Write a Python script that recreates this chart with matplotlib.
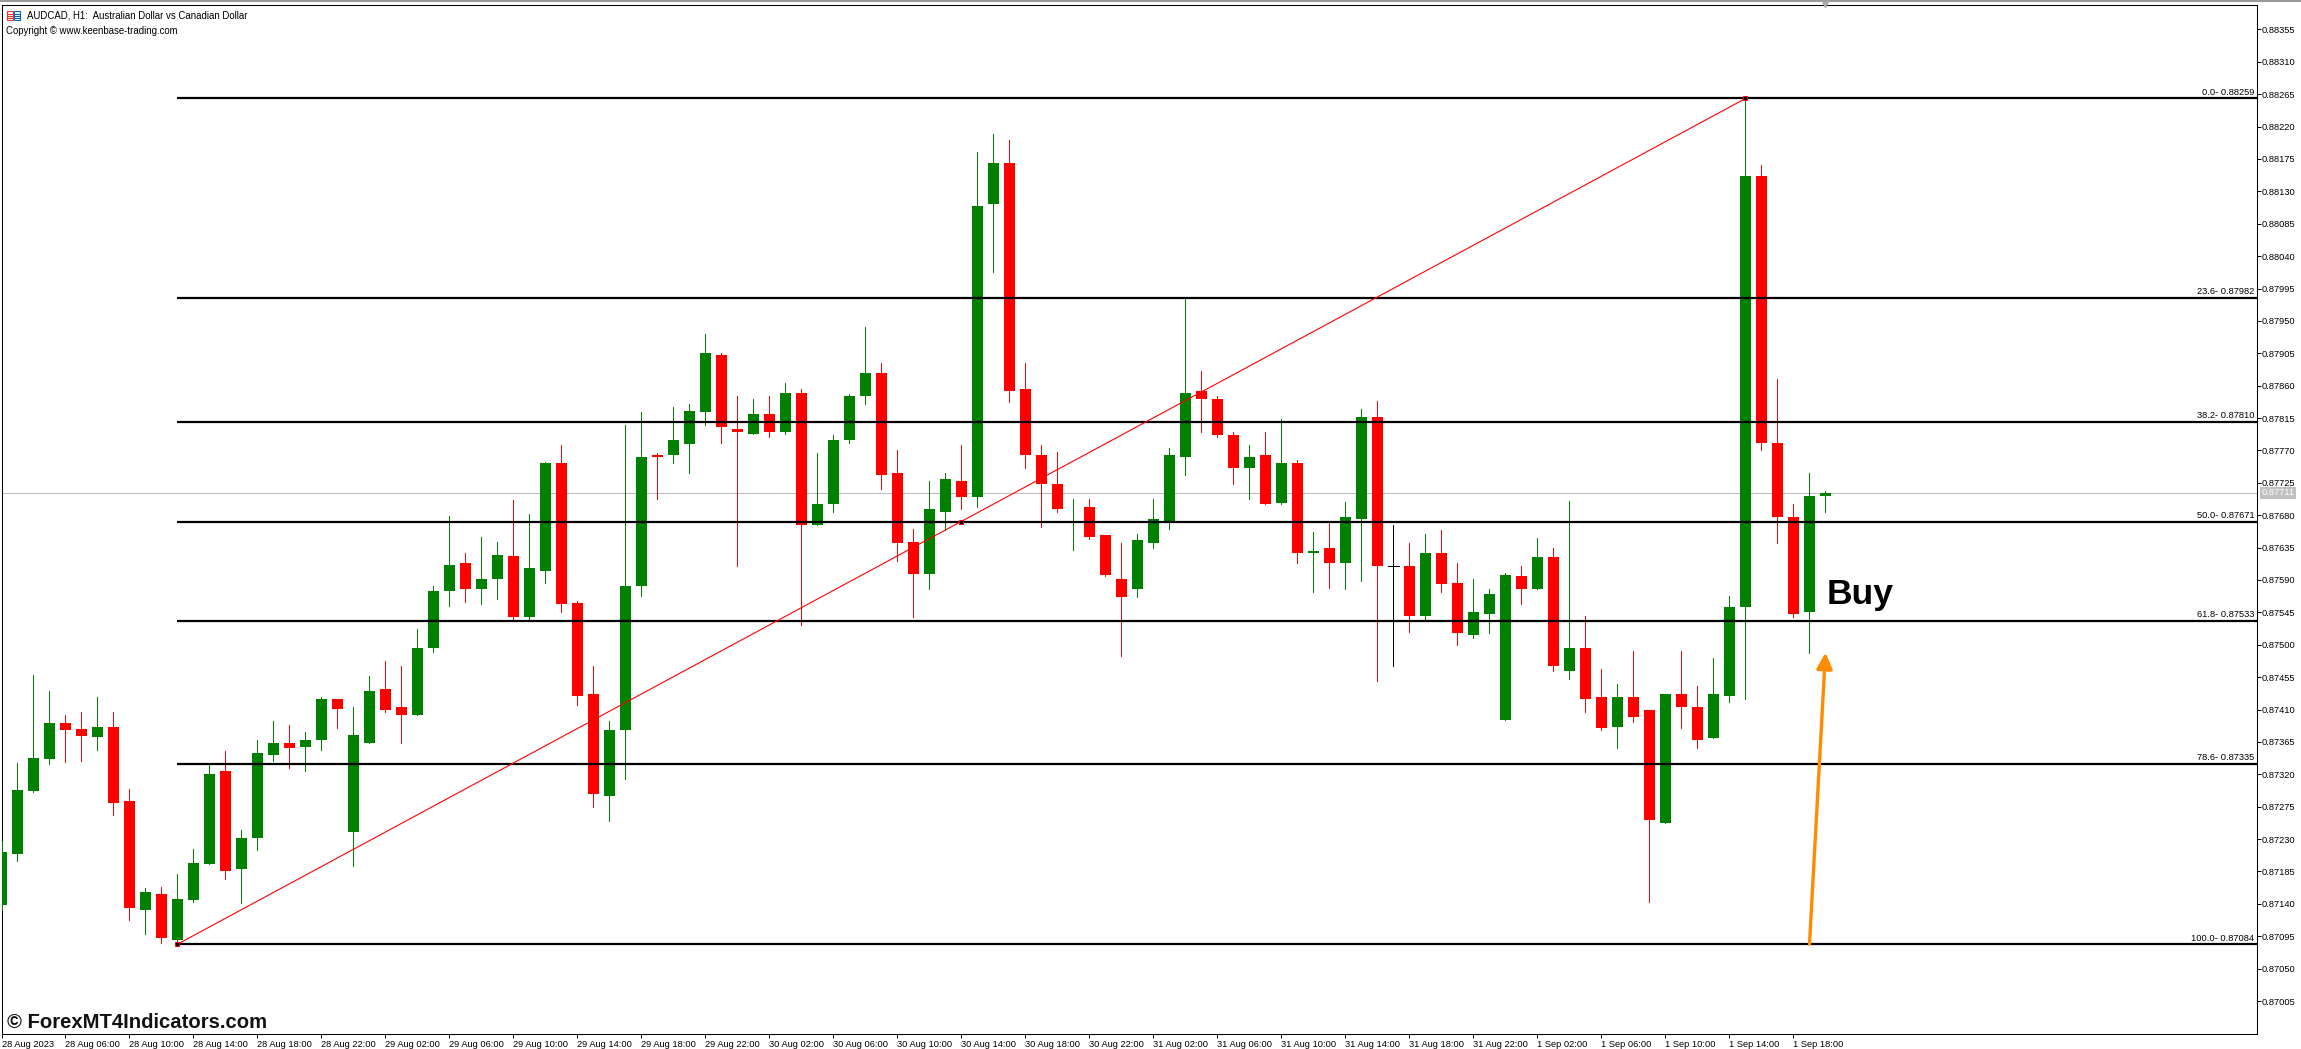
import numpy as np
import matplotlib
matplotlib.use('Agg')
import matplotlib.pyplot as plt
from matplotlib.patches import Rectangle

plt.rcParams['font.family'] = ['Liberation Sans', 'DejaVu Sans']

# candle values in points (1 point = 0.00001)
opens = [87139,87209,87297,87341,87391,87383,87372,87386,87283,87131,
         87154,87090,87145,87195,87325,87188,87232,87347,87364,87358,
         87367,87424,87240,87363,87438,87413,87402,87495,87575,87613,
         87578,87591,87624,87538,87603,87753,87558,87432,87290,87381,
         87581,87764,87763,87779,87824,87903,87800,87793,87821,87795,
         87850,87667,87695,87784,87845,87877,87739,87643,87599,87684,
         87728,87706,88113,88170,87855,87764,87724,87691,87692,87653,
         87592,87577,87641,87672,87761,87852,87842,87792,87745,87764,
         87697,87752,87627,87635,87614,87675,87816,87610,87610,87540,
         87627,87586,87514,87543,87395,87596,87578,87622,87463,87496,
         87427,87386,87428,87409,87253,87432,87414,87370,87429,87552,
         88152,87781,87678,87545,87707]
closes = [87212,87298,87343,87391,87382,87373,87386,87280,87134,87157,
          87092,87147,87197,87320,87186,87232,87350,87364,87357,87368,
          87424,87411,87375,87436,87410,87402,87496,87575,87611,87578,
          87592,87625,87538,87606,87753,87556,87429,87293,87381,87581,
          87761,87761,87784,87825,87905,87802,87796,87821,87795,87850,
          87667,87696,87785,87846,87877,87736,87641,87599,87688,87731,
          87706,88110,88170,87853,87763,87723,87689,87692,87650,87597,
          87567,87645,87675,87764,87850,87842,87791,87745,87761,87696,
          87753,87627,87630,87614,87677,87817,87610,87610,87540,87627,
          87585,87516,87545,87571,87597,87577,87622,87470,87496,87425,
          87385,87428,87400,87257,87432,87413,87368,87432,87553,88152,
          87780,87677,87543,87707,87711]
highs = [87227,87336,87458,87436,87403,87407,87428,87407,87300,87162,
         87164,87182,87216,87334,87353,87243,87367,87394,87389,87379,
         87427,87424,87414,87457,87478,87471,87522,87582,87679,87628,
         87650,87643,87701,87682,87754,87778,87561,87471,87394,87805,
         87824,87767,87831,87834,87932,87906,87846,87842,87846,87864,
         87856,87767,87791,87849,87942,87891,87771,87661,87727,87739,
         87778,88185,88209,88202,87892,87778,87768,87703,87703,87653,
         87642,87654,87703,87774,87981,87880,87845,87795,87778,87796,
         87814,87757,87656,87670,87698,87827,87839,87667,87641,87654,
         87660,87614,87591,87578,87600,87609,87649,87635,87700,87540,
         87466,87446,87492,87409,87432,87492,87443,87482,87568,88259,
         88167,87869,87696,87739,87714]
lows = [87131,87199,87296,87334,87337,87339,87354,87264,87117,87098,
        87086,87084,87142,87195,87175,87141,87215,87339,87329,87324,
        87354,87385,87192,87363,87406,87363,87402,87490,87554,87560,
        87556,87563,87534,87534,87586,87545,87417,87275,87255,87314,
        87568,87703,87753,87739,87805,87781,87609,87793,87788,87793,
        87527,87666,87684,87781,87834,87716,87617,87539,87577,87659,
        87688,87692,88018,87838,87746,87663,87684,87631,87647,87595,
        87484,87567,87635,87661,87736,87795,87788,87723,87702,87696,
        87696,87614,87573,87579,87578,87588,87450,87471,87518,87535,
        87573,87499,87510,87517,87395,87556,87577,87464,87452,87406,
        87381,87356,87393,87142,87253,87385,87356,87370,87420,87424,
        87770,87641,87538,87489,87684]

fib_names = ['0.0', '23.6', '38.2', '50.0', '61.8', '78.6', '100.0']
fib_levels = [0.88259, 0.87982, 0.87810, 0.87671, 0.87533, 0.87335, 0.87084]
fib_start = 11
fib_mid = 60
fib_end = 109

price_ticks = [0.88355,0.88310,0.88265,0.88220,0.88175,0.88130,0.88085,0.88040,
               0.87995,0.87950,0.87905,0.87860,0.87815,0.87770,0.87725,0.87680,
               0.87635,0.87590,0.87545,0.87500,0.87455,0.87410,0.87365,0.87320,
               0.87275,0.87230,0.87185,0.87140,0.87095,0.87050,0.87005]
time_ticks = list(range(0, 113, 4))
time_labels = ['28 Aug 2023','28 Aug 06:00','28 Aug 10:00','28 Aug 14:00','28 Aug 18:00','28 Aug 22:00',
               '29 Aug 02:00','29 Aug 06:00','29 Aug 10:00','29 Aug 14:00','29 Aug 18:00','29 Aug 22:00',
               '30 Aug 02:00','30 Aug 06:00','30 Aug 10:00','30 Aug 14:00','30 Aug 18:00','30 Aug 22:00',
               '31 Aug 02:00','31 Aug 06:00','31 Aug 10:00','31 Aug 14:00','31 Aug 18:00','31 Aug 22:00',
               '1 Sep 02:00','1 Sep 06:00','1 Sep 10:00','1 Sep 14:00','1 Sep 18:00']

W, H = 2301, 1049
fig = plt.figure(figsize=(W/100, H/100), dpi=100, facecolor='white')
ax = fig.add_axes([1.5/W, 1-1033.5/H, (2256.5-1.5)/W, (1033.5-4.5)/H])
ax.set_xlim(0, 140.94)
ax.set_ylim(0.869599, 0.883896)

o = np.array(opens)/1e5
c = np.array(closes)/1e5
h = np.array(highs)/1e5
l = np.array(lows)/1e5
x = np.arange(len(o))

colors = np.where(c > o, '#008000', np.where(c < o, '#FF0000', '#000000'))
ax.vlines(x, l, h, colors=colors, lw=0.72, zorder=3, antialiased=False)
flat = c == o
ax.bar(x[~flat], np.abs(c-o)[~flat], bottom=np.minimum(o, c)[~flat], width=0.6875,
       color=colors[~flat], linewidth=0, zorder=4, antialiased=False)
ax.hlines(o[flat], x[flat]-0.34, x[flat]+0.34, colors='#000000', lw=0.72, zorder=4, antialiased=False)

# last price line
ax.axhline(c[-1], color='#C0C0C0', lw=0.8, zorder=1)

# fibonacci levels and trend line
ax.hlines(fib_levels, fib_start, ax.get_xlim()[1], colors='black', lw=1.6, zorder=5)
ax.plot([fib_start, fib_end], [fib_levels[-1], fib_levels[0]], color='#FF0000', lw=0.8, zorder=6)
ax.plot([fib_start, fib_mid, fib_end], [fib_levels[-1], fib_levels[3], fib_levels[0]], ls='none',
        marker='s', ms=3.2, mfc='black', mec='#FF0000', mew=0.7, zorder=7)
for name, lev in zip(fib_names, fib_levels):
    ax.annotate('%s- %.5f' % (name, lev), xy=(1, lev), xycoords=('axes fraction', 'data'),
                xytext=(-1.5, 1.2), textcoords='offset points', ha='right', va='bottom',
                fontsize=6.7, color='black', zorder=8)

# buy arrow and label
ax.annotate('', xy=(114.0, 0.87489), xytext=(113.0, 0.87084),
            arrowprops=dict(arrowstyle='-|>,head_width=0.3,head_length=0.6', color='#FF8C00', lw=2.4,
                            shrinkA=0, shrinkB=0, mutation_scale=16), zorder=8)
ax.text(114.05, 0.87557, 'Buy', fontweight='bold', fontsize=25.5,
        color='black', ha='left', va='baseline', zorder=8)

# axes
for s in ax.spines.values():
    s.set_linewidth(0.75)
ax.yaxis.tick_right()
ax.set_yticks(price_ticks)
ax.set_yticklabels(['%.5f' % p for p in price_ticks])
ax.set_xticks(time_ticks)
ax.set_xticklabels(time_labels, ha='left')
ax.tick_params(axis='y', length=3, width=0.7, pad=0.5, labelsize=6.7)
ax.tick_params(axis='x', length=3, width=0.7, pad=1.5, labelsize=6.7)

# grey current price box on the scale
ax.annotate('%.5f' % c[-1], xy=(1, c[-1]), xycoords=('axes fraction', 'data'), xytext=(3.5, 0),
            textcoords='offset points', ha='left', va='center', fontsize=6.7, color='white',
            bbox=dict(boxstyle='square,pad=0.15', fc='#C0C0C0', ec='none'), annotation_clip=False, zorder=9)

# overlay in pixels for the window furniture
top = fig.add_axes([0, 0, 1, 1], facecolor='none')
top.set_xlim(0, W)
top.set_ylim(H, 0)
top.axis('off')
top.add_patch(Rectangle((0, 0), W, 1.5, color='#9A9A9A', lw=0))
top.plot([1825], [4], marker='v', ms=4, color='#A8A8A8', ls='none', clip_on=False)
# header icon
top.add_patch(Rectangle((6.5, 11), 6.5, 9, fc='white', ec='#E8392B', lw=0.8))
top.add_patch(Rectangle((13.5, 11), 6.5, 9, fc='white', ec='#0A66B8', lw=0.8))
for yy in [13.5, 15.5, 18]:
    top.plot([8, 12], [yy, yy], color='#E8392B', lw=0.8)
    top.plot([15, 19], [yy, yy], color='#0A66B8', lw=0.8)
top.text(27, 15.7, 'AUDCAD, H1:  Australian Dollar vs Canadian Dollar', fontsize=6.9, va='center', ha='left')
top.text(6, 30.7, 'Copyright © www.keenbase-trading.com', fontsize=6.9, va='center', ha='left')
top.text(7, 1027.5, '© ForexMT4Indicators.com', fontweight='bold', fontsize=14.6,
         color='#111111', va='baseline', ha='left')

fig.savefig('out.png', dpi=100, facecolor='white')
